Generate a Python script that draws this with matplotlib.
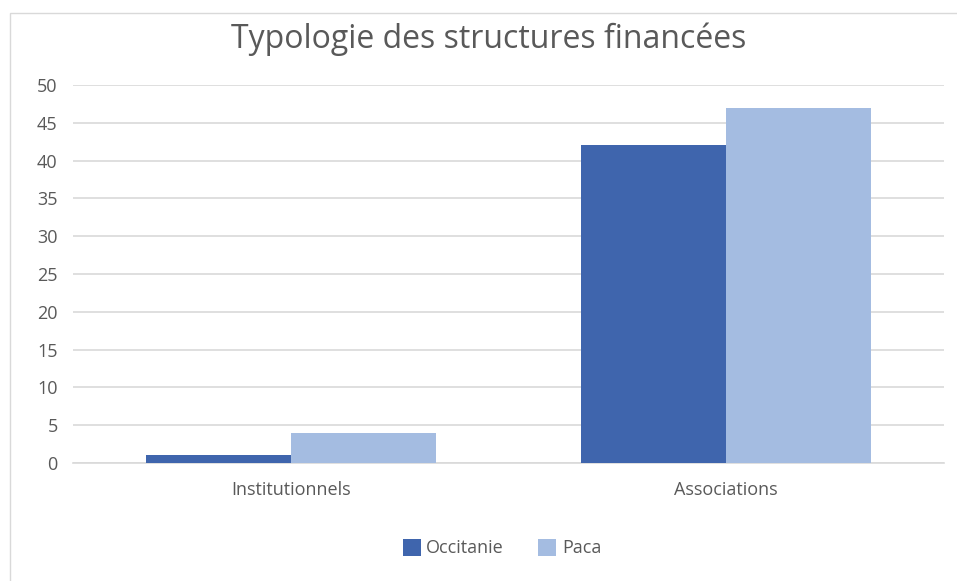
import numpy as np
import matplotlib
matplotlib.use('Agg')
import matplotlib.pyplot as plt
from matplotlib.patches import Rectangle

# Données
categories = ['Institutionnels', 'Associations']
occitanie = [1, 42]
paca = [4, 47]
series_names = ['Occitanie', 'Paca']
y_ticks = [0, 5, 10, 15, 20, 25, 30, 35, 40, 45, 50]

# Style
col_occ = '#3F65AD'
col_paca = '#A4BCE1'
text_col = '#595959'
grid_col = '#D9D9D9'
plt.rcParams['font.family'] = ['Open Sans', 'DejaVu Sans']

W, H = 957, 581
fig = plt.figure(figsize=(W / 100, H / 100), dpi=100)
fig.patch.set_facecolor('white')

# Cadre du graphique (coupé à droite et en bas)
fig.patches.append(Rectangle((10 / W, -0.1), 1.1, 1.1 - 13 / H,
                             transform=fig.transFigure, fill=False,
                             edgecolor='#D9D9D9', lw=1))

ax = fig.add_axes([73 / W, 1 - 463 / H, (944 - 73) / W, (463 - 85) / H])

x = np.arange(len(categories))
bw = 1 / 3
ax.bar(x - bw / 2, occitanie, bw, color=col_occ, label=series_names[0], zorder=3)
ax.bar(x + bw / 2, paca, bw, color=col_paca, label=series_names[1], zorder=3)

ax.set_xlim(-0.5, 1.5)
ax.set_ylim(0, 50)
ax.set_yticks(y_ticks)
ax.set_xticks(x)
ax.set_xticklabels(categories)
ax.yaxis.grid(True, color=grid_col, lw=1.2, zorder=0)
ax.set_axisbelow(True)
for s in ax.spines.values():
    s.set_visible(False)
ax.spines['bottom'].set_visible(True)
ax.spines['bottom'].set_color(grid_col)
ax.spines['bottom'].set_linewidth(1.2)
ax.tick_params(axis='both', length=0, colors=text_col, labelsize=13)
ax.tick_params(axis='y', pad=11)
ax.tick_params(axis='x', pad=13)

fig.text(489 / W, 1 - 39 / H, 'Typologie des structures financées',
         ha='center', va='center', fontsize=23, color=text_col)

leg = fig.legend(loc='center', bbox_to_anchor=(502 / W, 1 - 548 / H), ncol=2,
                 frameon=False, fontsize=13, handlelength=1.0, handleheight=1.1,
                 handletextpad=0.3, columnspacing=1.9)
for t in leg.get_texts():
    t.set_color(text_col)

fig.savefig('out.png', dpi=100, facecolor='white')
